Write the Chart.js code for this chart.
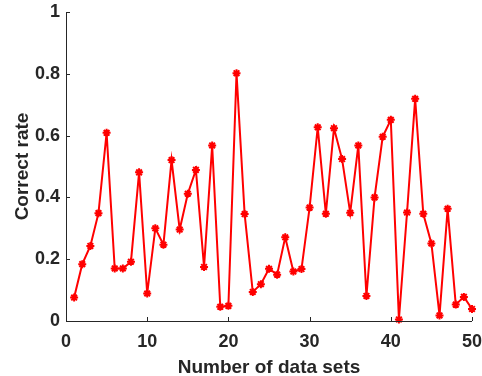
<!DOCTYPE html>
<html><head><meta charset="utf-8">
<script src="https://cdn.jsdelivr.net/npm/chart.js@4/dist/chart.umd.min.js"></script>
<style>html,body{margin:0;padding:0;background:#fff}#wrap{width:482px;height:376px}</style>
</head><body><div id="wrap"><canvas id="c"></canvas></div>
<script>
const xValues = [1,2,3,4,5,6,7,8,9,10,11,12,13,14,15,16,17,18,19,20,21,22,23,24,25,26,27,28,29,30,31,32,33,34,35,36,37,38,39,40,41,42,43,44,45,46,47,48,49,50];
const correctRate = [0.076,0.184,0.243,0.349,0.609,0.170,0.170,0.192,0.481,0.089,0.300,0.247,0.521,0.296,0.412,0.489,0.175,0.568,0.046,0.049,0.802,0.346,0.094,0.119,0.169,0.150,0.271,0.160,0.168,0.367,0.627,0.347,0.624,0.524,0.350,0.568,0.081,0.400,0.596,0.651,0.005,0.351,0.719,0.347,0.251,0.018,0.363,0.053,0.078,0.039];
const xTicks = [0,10,20,30,40,50];
const yTicks = [0,0.2,0.4,0.6,0.8,1];
const axisColor = '#262626';

const inwardTicks = {
  id: 'inwardTicks',
  afterDraw(chart) {
    const ctx = chart.ctx, a = chart.chartArea;
    const xs = chart.scales.x, ys = chart.scales.y;
    ctx.save();
    ctx.strokeStyle = axisColor; ctx.lineWidth = 1;
    ctx.beginPath();
    ctx.moveTo(a.left + 0.5, a.top); ctx.lineTo(a.left + 0.5, a.bottom + 0.5); ctx.lineTo(a.right, a.bottom + 0.5);
    xTicks.forEach(v => { const p = Math.round(xs.getPixelForValue(v)) + 0.5; ctx.moveTo(p, a.bottom); ctx.lineTo(p, a.bottom - 4); });
    yTicks.forEach(v => { const p = Math.round(ys.getPixelForValue(v)) + 0.5; ctx.moveTo(a.left, p); ctx.lineTo(a.left + 4, p); });
    ctx.stroke();
    ctx.restore();
  }
};

new Chart(document.getElementById('c'), {
  type: 'line',
  data: { datasets: [{
    data: xValues.map((x, i) => ({x: x, y: correctRate[i]})),
    borderColor: '#ff0000', backgroundColor: '#ff0000',
    borderWidth: 2, pointStyle: 'star', pointRadius: 4, pointBorderWidth: 2,
    pointBorderColor: '#ff0000', tension: 0, clip: false
  }]},
  options: {
    responsive: true, maintainAspectRatio: false, animation: false,
    layout: { padding: { top: 12, right: 10, left: 11, bottom: 0 } },
    plugins: { legend: { display: false }, tooltip: { enabled: false } },
    scales: {
      x: {
        type: 'linear', min: 0, max: 50,
        afterBuildTicks: s => { s.ticks = xTicks.map(v => ({value: v})); },
        afterFit: s => { s.height = 55; s.paddingLeft = 0; s.paddingRight = 0; },
        grid: { display: false, drawTicks: false },
        border: { display: false },
        ticks: { color: axisColor, padding: 10, font: { family: 'Liberation Sans, Arial', size: 18, weight: 'bold' } },
        title: { display: true, text: 'Number of data sets', color: axisColor, padding: { top: 0, bottom: -3 }, font: { family: 'Liberation Sans, Arial', size: 19, weight: 'bold' } }
      },
      y: {
        min: 0, max: 1,
        afterBuildTicks: s => { s.ticks = yTicks.map(v => ({value: v})); },
        afterFit: s => { s.width = 55; s.paddingTop = 0; s.paddingBottom = 0; },
        grid: { display: false, drawTicks: false },
        border: { display: false },
        ticks: { color: axisColor, padding: 6, font: { family: 'Liberation Sans, Arial', size: 18, weight: 'bold' }, callback: v => String(Math.round(v * 10) / 10) },
        title: { display: true, text: 'Correct rate', color: axisColor, padding: { top: 0, bottom: 0 }, font: { family: 'Liberation Sans, Arial', size: 19, weight: 'bold' } }
      }
    }
  },
  plugins: [inwardTicks]
});
</script></body></html>
